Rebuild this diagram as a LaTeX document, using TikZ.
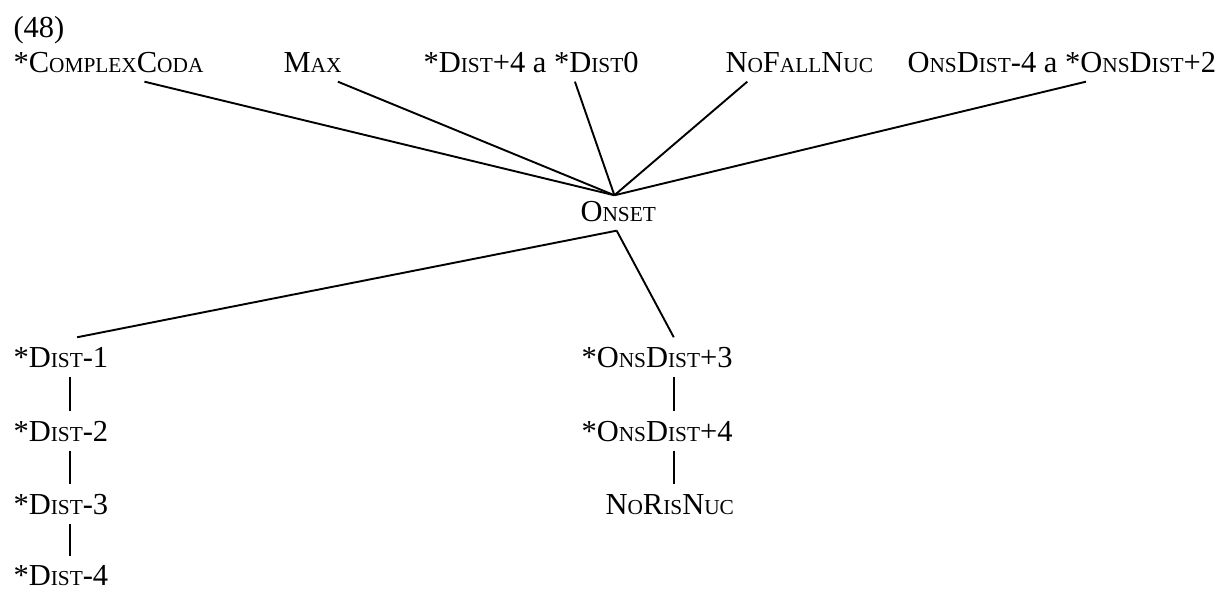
\documentclass[tikz,border=0pt]{standalone}
\usepackage{fontspec}
\setmainfont{Liberation Serif}
\usetikzlibrary{calc}
\newcommand\smc[1]{{\fontsize{8.4pt}{10pt}\selectfont #1}}
\begin{document}
\begin{tikzpicture}[x=0.3934pt,y=-0.3934pt,
  lbl/.style={anchor=base west, inner xsep=0pt, inner ysep=3.6pt, text height=7.9pt, text depth=0pt, font=\fontsize{12pt}{14pt}\selectfont},
  edge/.style={line width=0.75pt}]
\useasboundingbox (0,0) rectangle (1224,588);
\node[lbl] (num) at (13,37) {(48)};
% top row
\node[lbl] (cc) at (13,72) {*C\smc{OMPLEX}C\smc{ODA}};
\node[lbl] (mx) at (283,72) {M\smc{AX}};
\node[lbl] (ds) at (423,72) {*D\smc{IST}+4 a *D\smc{IST}0};
\node[lbl] (nf) at (725,72) {N\smc{O}F\smc{ALL}N\smc{UC}};
\node[lbl] (od) at (907,72) {O\smc{NS}D\smc{IST}-4 a *O\smc{NS}D\smc{IST}+2};
% centre
\node[lbl] (on) at (580,221) {O\smc{NSET}};
% left column
\node[lbl] (d1) at (13,367) {*D\smc{IST}-1};
\node[lbl] (d2) at (13,441) {*D\smc{IST}-2};
\node[lbl] (d3) at (13,514) {*D\smc{IST}-3};
\node[lbl, inner ysep=0.3pt] (d4) at (13,585) {*D\smc{IST}-4};
% middle column
\node[lbl] (o3) at (581,367) {*O\smc{NS}D\smc{IST}+3};
\node[lbl] (o4) at (581,441) {*O\smc{NS}D\smc{IST}+4};
\node[lbl] (nr) at (605,514) {N\smc{O}R\smc{IS}N\smc{UC}};
% connection points
\coordinate (apex) at ($(on.north west)!0.45!(on.north east)+(0,4)$);
\coordinate (base) at ($(on.south west)!0.48!(on.south east)$);
\coordinate (d1s) at ($(d1.south west)!0.6!(d1.south east)$);
\coordinate (d2s) at ($(d2.south west)!0.6!(d2.south east)$);
\coordinate (d3s) at ($(d3.south west)!0.6!(d3.south east)$);
\coordinate (o3s) at ($(o3.south west)!0.61!(o3.south east)$);
\coordinate (o4s) at ($(o4.south west)!0.61!(o4.south east)$);
\coordinate (d4n) at ($(d3s |- d4.north)+(0,-8)$);
% edges to top row
\draw[edge] ($(cc.south west)!0.688!(cc.south east)$) -- (apex);
\draw[edge] ($(mx.south west)!0.93!(mx.south east)$) -- (apex);
\draw[edge] ($(ds.south west)!0.703!(ds.south east)$) -- (apex);
\draw[edge] ($(nf.south west)!0.15!(nf.south east)$) -- (apex);
\draw[edge] ($(od.south west)!0.578!(od.south east)$) -- (apex);
% edges below
\draw[edge] (base) -- ($(d1.north west)!0.67!(d1.north east)$);
\draw[edge] (base) -- ($(o3.north west)!0.61!(o3.north east)$);
\draw[edge] (d1s) -- (d1s |- d2.north);
\draw[edge] (d2s) -- (d2s |- d3.north);
\draw[edge] (d3s) -- (d4n);
\draw[edge] (o3s) -- (o3s |- o4.north);
\draw[edge] (o4s) -- (o4s |- nr.north);
\end{tikzpicture}
\end{document}
